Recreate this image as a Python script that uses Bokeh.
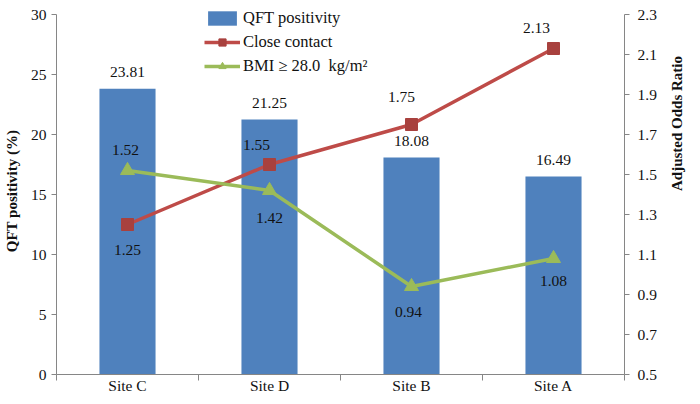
from bokeh.plotting import figure
from bokeh.models import (Range1d, LinearAxis, FixedTicker, Legend, LegendItem,
                          ColumnDataSource, LabelSet)
from bokeh.embed import file_html
from bokeh.resources import INLINE
import math

sites = ["Site C", "Site D", "Site B", "Site A"]
qft = [23.81, 21.25, 18.08, 16.49]
close_contact = [1.25, 1.55, 1.75, 2.13]
bmi = [1.52, 1.42, 0.94, 1.08]
left_ticks = [0, 5, 10, 15, 20, 25, 30]
right_ticks = [0.5, 0.7, 0.9, 1.1, 1.3, 1.5, 1.7, 1.9, 2.1, 2.3]

# label placement (style, pixels)
cc_dx = [0, -13, -10, -17]
cc_dy = [-25, 20, 28, 21]
bmi_dx = [-2, 0, -3, 0]
bmi_dy = [21, -27, -25, -22]

FONT = "Liberation Serif"
BLUE = "#4F81BD"
RED = "#BE4B48"
RED_MK = "#A8413E"
GREEN = "#9BBB59"
AXIS = "#868686"
TXT = "#111111"

xs = [i + 0.5 for i in range(len(sites))]

AXIS_PX = 360   # pixel height of the axes
EXTRA_PX = 7    # free headroom above the axes (for the legend)
l_lo, l_hi = left_ticks[0], left_ticks[-1]
r_lo, r_hi = right_ticks[0], right_ticks[-1]
l_top = l_hi + (l_hi - l_lo) * EXTRA_PX / AXIS_PX
r_top = r_hi + (r_hi - r_lo) * EXTRA_PX / AXIS_PX

p = figure(width=684, height=388, output_backend="svg", toolbar_location=None,
           x_range=Range1d(0, len(sites)), y_range=Range1d(l_lo, l_top),
           frame_width=568, frame_height=AXIS_PX + EXTRA_PX, min_border_left=53,
           min_border_right=10, min_border_top=7, min_border_bottom=5)
p.outline_line_color = None
p.xgrid.visible = False
p.ygrid.visible = False
p.background_fill_color = "white"
p.extra_y_ranges = {"or": Range1d(r_lo, r_top)}

src = ColumnDataSource(dict(
    x=xs, qft=qft, cc=close_contact, bmi=bmi,
    qft_t=[f"{v:.2f}" for v in qft],
    cc_t=[f"{v:.2f}" for v in close_contact],
    bmi_t=[f"{v:.2f}" for v in bmi],
    cc_dx=cc_dx, cc_dy=cc_dy, bmi_dx=bmi_dx, bmi_dy=bmi_dy,
))

bars = p.vbar(x="x", top="qft", width=0.395, bottom=0, source=src,
              fill_color=BLUE, line_color=None)
l1 = p.line("x", "cc", source=src, y_range_name="or", line_color=RED, line_width=3.5)
m1 = p.scatter("x", "cc", source=src, y_range_name="or", marker="square",
               size=12, fill_color=RED_MK, line_color=RED_MK)
l2 = p.line("x", "bmi", source=src, y_range_name="or", line_color=GREEN, line_width=3.5)
m2 = p.scatter("x", "bmi", source=src, y_range_name="or", marker="triangle",
               size=14, fill_color=GREEN, line_color=GREEN)

lbl_style = dict(text_font=FONT, text_font_size="15.5px", text_color=TXT,
                 text_align="center", text_baseline="middle")
p.add_layout(LabelSet(x="x", y="qft", text="qft_t", source=src, y_offset=17,
                      **lbl_style))
p.add_layout(LabelSet(x="x", y="cc", text="cc_t", source=src, y_range_name="or",
                      x_offset="cc_dx", y_offset="cc_dy", **lbl_style))
p.add_layout(LabelSet(x="x", y="bmi", text="bmi_t", source=src, y_range_name="or",
                      x_offset="bmi_dx", y_offset="bmi_dy", **lbl_style))

# axes
xa = p.xaxis[0]
xa.ticker = FixedTicker(ticks=xs, minor_ticks=list(range(len(sites) + 1)))
xa.major_label_overrides = {x: s for x, s in zip(xs, sites)}
xa.major_tick_line_color = None
xa.minor_tick_in = 0
xa.minor_tick_out = 6
xa.minor_tick_line_color = AXIS
xa.axis_line_color = AXIS
xa.major_label_text_font = FONT
xa.major_label_text_font_size = "15.5px"
xa.major_label_text_color = TXT
xa.major_label_standoff = -4

ya = p.yaxis[0]
ya.ticker = FixedTicker(ticks=left_ticks)
ya.bounds = (l_lo, l_hi)
ya.axis_label = "QFT positivity (%)"
ya.axis_label_text_font = FONT
ya.axis_label_text_font_style = "bold"
ya.axis_label_text_font_size = "15px"
ya.axis_label_text_color = TXT
ya.axis_label_standoff = 8
ya.major_label_text_font = FONT
ya.major_label_text_font_size = "15.5px"
ya.major_label_text_color = TXT
ya.axis_line_color = AXIS
ya.major_tick_line_color = AXIS
ya.major_tick_in = 0
ya.major_tick_out = 5
ya.minor_tick_line_color = None

ra = LinearAxis(y_range_name="or", ticker=FixedTicker(ticks=right_ticks),
                bounds=(r_lo, r_hi))
ra.major_label_overrides = {v: f"{v:.1f}" for v in right_ticks}
ra.axis_label = "Adjusted  Odds  Ratio"
ra.axis_label_orientation = math.pi / 2
ra.axis_label_text_font = FONT
ra.axis_label_text_font_style = "bold"
ra.axis_label_text_font_size = "15px"
ra.axis_label_text_color = TXT
ra.axis_label_standoff = 17
ra.major_label_text_font = FONT
ra.major_label_text_font_size = "15.5px"
ra.major_label_text_color = TXT
ra.major_label_standoff = 8
ra.axis_line_color = AXIS
ra.major_tick_line_color = AXIS
ra.major_tick_in = 0
ra.major_tick_out = 5
ra.minor_tick_line_color = None
p.add_layout(ra, "right")

legend = Legend(items=[
    LegendItem(label="QFT positivity", renderers=[bars]),
    LegendItem(label="Close contact", renderers=[l1, m1]),
    LegendItem(label="BMI \u2265 28.0  kg/m\u00b2", renderers=[l2, m2]),
], location=(148, 298))
legend.label_text_font = FONT
legend.label_text_font_size = "16.5px"
legend.label_text_color = TXT
legend.glyph_width = 36
legend.glyph_height = 18
legend.label_height = 18
legend.spacing = 4
legend.padding = 0
legend.margin = 0
legend.label_standoff = 3
legend.border_line_color = None
legend.background_fill_alpha = 0
p.add_layout(legend, "center")

open("out.html", "w").write(file_html(p, INLINE))
